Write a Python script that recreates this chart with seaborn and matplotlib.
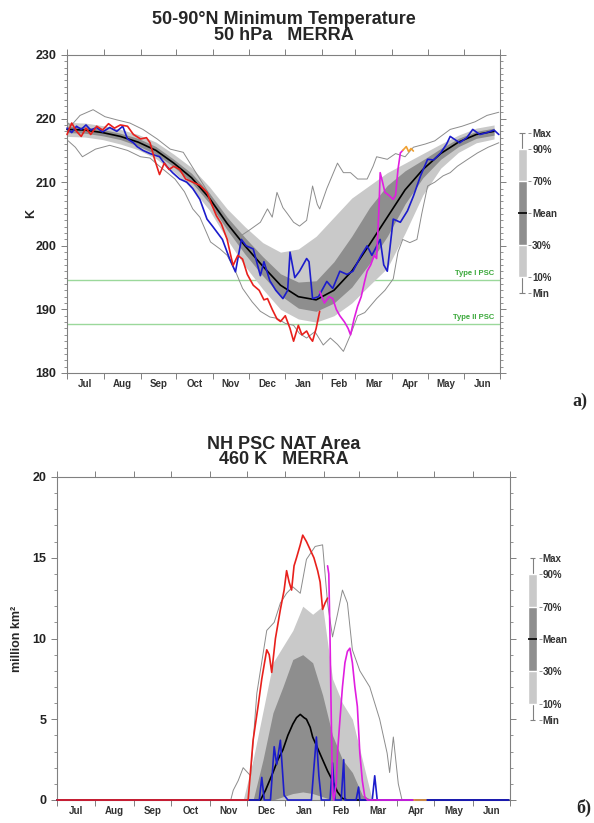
import numpy as np
import pandas as pd
import seaborn as sns
from matplotlib import pyplot as plt

# ---- common -------------------------------------------------------------
month_names = ['Jul', 'Aug', 'Sep', 'Oct', 'Nov', 'Dec', 'Jan', 'Feb', 'Mar', 'Apr', 'May', 'Jun']
month_starts = [0, 31, 62, 92, 123, 153, 184, 215, 243, 274, 304, 335, 365]

key_labels = ['Min', '10%', '30%', 'Mean', '70%', '90%', 'Max']
key_pos = [0, 1, 3, 5, 7, 9, 10]

# ---- panel a: 50-90N minimum temperature, 50 hPa (K) ---------------------
t_band_day = [0, 15, 30, 45, 60, 75, 90, 105, 120, 135, 150, 165, 180, 195, 210, 225, 240, 255, 270, 285,
              300, 315, 330, 345, 360]
t_mean = [218.3, 218.2, 217.8, 217.2, 216.3, 215.0, 213.0, 210.7, 207.5, 203.5, 200.0, 196.8, 193.8, 192.0,
          191.5, 193.0, 196.0, 200.2, 204.5, 208.8, 212.0, 214.5, 216.3, 217.5, 218.0]
t_p90 = [219.4, 219.3, 218.9, 218.3, 217.5, 216.3, 214.4, 212.3, 209.3, 205.8, 203.0, 200.5, 199.0, 199.5,
         201.5, 204.5, 207.5, 209.5, 211.5, 213.0, 214.5, 216.0, 217.4, 218.5, 219.0]
t_p70 = [218.8, 218.7, 218.3, 217.7, 216.9, 215.6, 213.6, 211.4, 208.3, 204.5, 201.3, 198.3, 195.6, 194.3,
         194.5, 197.5, 201.5, 206.0, 209.5, 211.8, 213.5, 215.3, 216.9, 218.0, 218.5]
t_p30 = [217.8, 217.7, 217.3, 216.7, 215.7, 214.4, 212.4, 210.0, 206.7, 202.5, 198.7, 195.3, 192.2, 190.2,
         189.7, 191.0, 193.5, 197.2, 201.5, 206.6, 210.7, 213.6, 215.6, 216.9, 217.4]
t_p10 = [217.2, 217.1, 216.7, 216.0, 215.1, 213.7, 211.6, 209.1, 205.6, 201.0, 196.8, 193.2, 190.0, 188.5,
         188.0, 189.0, 191.0, 193.8, 196.5, 202.0, 208.0, 212.2, 214.7, 216.2, 216.8]

t_max_day = [0, 3, 11, 22, 32, 42, 53, 64, 76, 87, 98, 112, 126, 137, 146, 154, 163, 169, 173, 177, 182, 186,
             191, 196, 202, 207, 211, 213, 219, 228, 233, 239, 245, 253, 258, 261, 270, 277, 285, 292, 302,
             310, 323, 333, 344, 354, 364]
t_max = [219.5, 218.8, 220.5, 221.4, 220.3, 219.8, 219.3, 218.3, 216.8, 215.2, 214.7, 210.5, 206.3, 203.1,
         201.5, 202.5, 203.7, 205.8, 204.5, 208.4, 206.0, 205.0, 203.7, 203.1, 204.0, 209.4, 206.5, 205.8,
         209.0, 213.0, 211.5, 211.5, 210.5, 210.5, 212.5, 214.0, 213.6, 214.5, 214.0, 215.5, 216.0, 216.5,
         218.3, 218.8, 219.5, 220.5, 221.0]
t_min_day = [1, 7, 13, 24, 36, 51, 62, 70, 78, 91, 99, 106, 112, 121, 129, 135, 142, 148, 156, 163, 171, 177,
             184, 191, 196, 202, 209, 216, 222, 228, 233, 239, 245, 251, 261, 268, 275, 279, 283, 289, 295,
             299, 304, 310, 317, 323, 329, 337, 346, 355, 364]
t_min = [216.5, 215.5, 214.0, 215.2, 215.8, 215.0, 214.0, 213.8, 212.5, 210.5, 208.5, 205.8, 204.5, 200.6,
         199.5, 198.5, 196.0, 193.3, 191.2, 189.7, 188.8, 188.6, 187.8, 187.5, 186.2, 185.5, 186.5, 184.4,
         185.5, 184.5, 183.4, 186.0, 189.0, 189.5, 191.7, 193.0, 194.8, 199.0, 201.0, 200.5, 201.0, 205.0,
         209.4, 210.0, 211.0, 211.5, 212.5, 213.5, 214.6, 215.5, 216.2]

t_red_day = [0, 4, 8, 12, 16, 20, 25, 30, 35, 40, 45, 51, 56, 62, 67, 70, 74, 78, 82, 86, 90, 95, 100, 106,
             112, 118, 122, 126, 130, 135, 138, 140, 144, 148, 152, 157, 162, 166, 169, 173, 177, 180, 184,
             188, 191, 195, 198, 202, 205, 207, 210, 213]
t_red = [217.5, 219.3, 218.0, 217.2, 218.5, 217.5, 218.8, 218.2, 219.2, 218.5, 219.0, 218.8, 217.5, 216.8,
         217.0, 216.2, 213.5, 211.2, 213.0, 212.0, 212.5, 212.0, 210.5, 210.0, 209.5, 208.4, 206.5, 204.7,
         203.5, 201.0, 198.5, 196.9, 198.5, 197.9, 195.5, 193.8, 193.0, 191.5, 191.7, 190.0, 188.5, 188.1,
         189.0, 187.0, 185.0, 187.5, 186.0, 186.6, 185.5, 185.0, 187.0, 189.7]
t_blue_day = [0, 4, 8, 12, 16, 20, 25, 30, 36, 42, 47, 51, 56, 59, 64, 70, 78, 84, 89, 95, 101, 106, 112,
              118, 123, 131, 137, 142, 147, 151, 157, 163, 166, 171, 176, 182, 186, 188, 192, 196, 202, 204,
              207, 212, 219, 224, 230, 236, 241, 248, 253, 257, 264, 267, 270, 275, 281, 287, 292, 298, 304,
              309, 315, 320, 323, 331, 337, 342, 348, 354, 360, 364]
t_blue = [218.5, 217.8, 218.8, 218.3, 219.0, 218.2, 218.6, 217.9, 218.6, 218.0, 218.8, 216.8, 216.2, 215.6,
          215.0, 214.5, 214.0, 212.5, 211.5, 210.5, 210.0, 209.0, 207.3, 204.2, 203.0, 201.0, 198.0, 195.9,
          201.0, 200.0, 199.5, 195.3, 197.5, 194.5, 193.0, 191.7, 193.0, 199.0, 195.0, 196.0, 198.0, 197.5,
          191.7, 192.0, 194.4, 193.3, 196.0, 195.5, 196.0, 198.5, 200.0, 198.5, 201.0, 197.0, 196.0, 204.2,
          203.7, 205.5, 207.8, 211.0, 213.6, 213.5, 214.6, 216.0, 217.2, 216.2, 217.0, 218.3, 217.5, 217.8,
          218.2, 217.5]
t_mag_day = [213, 217, 221, 224, 227, 230, 234, 237, 239, 242, 245, 248, 251, 253, 256, 259, 261, 263, 264,
             266, 268, 271, 275, 277, 279, 281, 283]
t_mag = [192.8, 191.0, 192.0, 191.7, 190.0, 189.0, 188.0, 187.0, 186.0, 188.5, 190.5, 192.0, 194.5, 196.0,
         197.0, 198.5, 198.0, 206.0, 211.5, 210.0, 208.4, 208.0, 207.3, 208.0, 212.0, 214.6, 215.0]
t_org_day = [283, 286, 288, 290, 292]
t_org = [215.0, 215.6, 214.8, 215.3, 214.9]

psc_levels = [194.6, 187.7]
psc_names = ['Type I PSC', 'Type II PSC']

# ---- panel b: NH PSC NAT area, 460 K (million km2) ----------------------
a_band_day = [150, 158, 166, 174, 182, 190, 198, 206, 214, 222, 230, 238, 246, 254]
a_p90 = [0.0, 2.5, 5.5, 8.5, 9.5, 10.5, 12.0, 11.5, 12.0, 7.5, 6.0, 5.0, 2.5, 0.0]
a_p70 = [0.0, 0.0, 2.5, 5.4, 7.0, 8.7, 9.0, 8.5, 6.5, 4.0, 2.5, 1.7, 0.3, 0.0]
a_p30 = [0.0, 0.0, 0.0, 0.0, 0.2, 0.4, 0.5, 0.4, 0.2, 0.0, 0.0, 0.0, 0.0, 0.0]
a_p10 = [0.0, 0.0, 0.0, 0.0, 0.0, 0.0, 0.0, 0.0, 0.0, 0.0, 0.0, 0.0, 0.0, 0.0]

a_mean_day = [0, 164, 168, 174, 178, 182, 186, 190, 193, 196, 199, 201, 204, 206, 210, 214, 218, 222, 226,
              230, 234, 364]
a_mean = [0.0, 0.0, 0.6, 1.7, 2.5, 3.1, 4.0, 4.7, 5.1, 5.3, 5.1, 5.0, 4.5, 3.9, 3.2, 2.5, 1.8, 1.2, 0.5, 0.1,
          0.0, 0.0]
a_max_day = [0, 140, 142, 146, 150, 156, 161, 169, 175, 180, 185, 190, 196, 201, 208, 214, 218, 222, 226,
             230, 234, 238, 244, 252, 260, 266, 268, 271, 275, 278, 364]
a_max = [0.0, 0.0, 0.6, 1.2, 2.0, 1.5, 6.6, 10.5, 11.0, 12.2, 12.8, 13.2, 12.8, 14.9, 15.7, 15.8, 12.2,
         10.1, 11.5, 13.0, 12.2, 9.3, 8.0, 7.0, 5.0, 2.9, 1.7, 3.9, 1.0, 0.0, 0.0]

a_red_day = [0, 154, 158, 162, 165, 169, 171, 173, 176, 180, 183, 185, 187, 189, 191, 193, 196, 198, 201,
             204, 207, 210, 212, 214, 216, 218]
a_red = [0.0, 0.0, 3.7, 5.8, 7.5, 9.3, 9.0, 7.9, 10.0, 11.8, 13.0, 14.2, 13.5, 13.0, 14.5, 15.0, 15.8, 16.4,
         16.0, 15.5, 15.0, 14.2, 13.5, 11.8, 12.2, 12.5]
a_mag_day = [218, 219, 220, 221, 222, 223, 225, 226, 228, 230, 232, 234, 236, 238, 240, 242, 244, 246, 248,
             250, 288]
a_mag = [14.5, 14.0, 10.0, 5.0, 0.5, 0.0, 1.0, 2.9, 5.0, 7.0, 8.5, 9.2, 9.4, 8.5, 7.0, 5.8, 2.9, 1.2, 0.2,
         0.0, 0.0]
a_org_day = [288, 297]
a_org = [0.0, 0.0]
a_blue_day = [0, 163, 165, 167, 172, 175, 177, 180, 183, 186, 205, 207, 209, 211, 213, 220, 222, 224, 229,
              231, 232, 241, 243, 244, 254, 256, 258, 364]
a_blue = [0.0, 0.0, 1.4, 0.0, 0.0, 3.3, 2.2, 3.7, 0.3, 0.0, 0.0, 2.0, 3.9, 1.5, 0.0, 0.0, 2.3, 0.0, 0.0,
          2.5, 0.0, 0.0, 0.8, 0.0, 0.0, 1.5, 0.0, 0.0]

LIGHT = '#c9c9c9'
DARK = '#8e8e8e'
EDGE = '#808080'
RED = '#e8201c'
BLUE = '#1c1ccc'
MAG = '#e01ee0'
ORG = '#f0a030'


def style_axes(ax, ylim, major, label):
    ax.set_xlim(0, 365)
    ax.set_ylim(*ylim)
    ax.set_xticks(month_starts)
    ax.set_xticklabels([])
    ax.set_xticks([(a + b) / 2 for a, b in zip(month_starts[:-1], month_starts[1:])], minor=True)
    ax.set_xticklabels(month_names, minor=True)
    ax.set_yticks(np.arange(ylim[0], ylim[1] + 1, major))
    ax.set_yticks(np.arange(ylim[0], ylim[1] + 1, 1), minor=True)
    ax.tick_params(axis='x', which='major', direction='out', length=4, width=0.7, color=EDGE,
                   top=True, bottom=True)
    ax.tick_params(axis='x', which='minor', length=0, pad=4, labelsize=7, labelcolor='#333333')
    ax.tick_params(axis='y', which='major', direction='out', length=4, width=0.7, color=EDGE,
                   left=True, right=True, labelsize=9, labelcolor='#222222')
    ax.tick_params(axis='y', which='minor', direction='out', length=2.5, width=0.6, color=EDGE,
                   left=True, right=True)
    for lab in ax.get_xticklabels(minor=True) + ax.get_yticklabels():
        lab.set_fontweight('bold')
    for sp in ax.spines.values():
        sp.set_visible(True)
        sp.set_color(EDGE)
        sp.set_linewidth(0.8)
        sp.set_zorder(1.5)
    ax.set_xlabel('')
    ax.set_ylabel(label, fontweight='bold', fontsize=9)


def draw_key(fig, rect):
    kax = fig.add_axes(rect)
    kax.set_xlim(-1, 1)
    kax.set_ylim(0, 10)
    kax.vlines(0, key_pos[0], key_pos[-1], color=EDGE, lw=0.8, zorder=1)
    kax.hlines([key_pos[0], key_pos[-1]], -0.45, 0.45, color=EDGE, lw=0.8, clip_on=False)
    kax.bar(0, key_pos[5] - key_pos[1], bottom=key_pos[1], width=1.5, color=LIGHT, zorder=2)
    kax.bar(0, key_pos[4] - key_pos[2], bottom=key_pos[2], width=1.5, color=DARK, zorder=3)
    kax.hlines(key_pos[3], -0.75, 0.75, color='black', lw=1.2, zorder=4)
    kax.set_xticks([])
    kax.yaxis.tick_right()
    kax.set_yticks(key_pos)
    kax.set_yticklabels(key_labels)
    kax.tick_params(axis='y', length=2, width=0.6, color=EDGE, pad=1, labelsize=7, labelcolor='#333333')
    for lab in kax.get_yticklabels():
        lab.set_fontweight('bold')
    for sp in kax.spines.values():
        sp.set_visible(False)


def line(ax, d, v, color, lw, z):
    sns.lineplot(x=d, y=v, ax=ax, color=color, lw=lw, estimator=None, sort=False, zorder=z)
    ax.get_lines()[-1].set_clip_on(False)


sns.set_theme(style='ticks')
plt.rcParams['font.family'] = ['Liberation Sans', 'DejaVu Sans']

fig = plt.figure(figsize=(5.94, 8.23), dpi=100)

# ---- panel a ----
ax1 = fig.add_axes([67 / 594, 1 - 373 / 823, 433 / 594, 318 / 823])
for lev, name in zip(psc_levels, psc_names):
    ax1.axhline(lev, color='#9bd89b', lw=1.0, zorder=0.5)
    ax1.text(360, lev + 0.5, name, ha='right', va='bottom', fontsize=5.5, fontweight='bold',
             color='#3aa83a', zorder=0.6)
ax1.fill_between(t_band_day, t_p10, t_p90, color=LIGHT, lw=0, zorder=1)
ax1.fill_between(t_band_day, t_p30, t_p70, color=DARK, lw=0, zorder=1.1)
line(ax1, t_max_day, t_max, '#8c8c8c', 0.7, 2)
line(ax1, t_min_day, t_min, '#8c8c8c', 0.7, 2)
line(ax1, t_band_day, t_mean, 'black', 1.2, 3)
line(ax1, t_blue_day, t_blue, BLUE, 1.2, 4)
line(ax1, t_red_day, t_red, RED, 1.2, 5)
line(ax1, t_mag_day, t_mag, MAG, 1.2, 5)
line(ax1, t_org_day, t_org, ORG, 1.2, 5)
style_axes(ax1, (180, 230), 10, 'K')
ax1.yaxis.set_label_coords(-0.07, 0.5)
draw_key(fig, [516 / 594, 1 - 293 / 823, 12 / 594, 160 / 823])

fig.text(284 / 594, 1 - 20 / 823, '50-90\u00b0N Minimum Temperature', ha='center', va='center',
         fontsize=13, fontweight='bold')
fig.text(284 / 594, 1 - 36 / 823, '50 hPa   MERRA', ha='center', va='center', fontsize=13,
         fontweight='bold')
fig.text(580 / 594, 1 - 401 / 823, '\u0430)', ha='center', va='center', fontsize=13, fontweight='bold',
         family=['Liberation Serif', 'DejaVu Serif'])

# ---- panel b ----
ax2 = fig.add_axes([57 / 594, 1 - 800 / 823, 453 / 594, 323 / 823])
ax2.fill_between(a_band_day, a_p10, a_p90, color=LIGHT, lw=0, zorder=1)
ax2.fill_between(a_band_day, a_p30, a_p70, color=DARK, lw=0, zorder=1.1)
line(ax2, a_max_day, a_max, '#8c8c8c', 0.7, 2)
line(ax2, a_mean_day, a_mean, 'black', 1.2, 3)
line(ax2, a_blue_day, a_blue, BLUE, 1.2, 4)
line(ax2, a_red_day, a_red, RED, 1.2, 5)
line(ax2, a_mag_day, a_mag, MAG, 1.2, 5)
line(ax2, a_org_day, a_org, ORG, 1.2, 5)
style_axes(ax2, (0, 20), 5, 'million km\u00b2')
ax2.yaxis.set_label_coords(-0.075, 0.5)
draw_key(fig, [526.5 / 594, 1 - 720 / 823, 12 / 594, 162 / 823])

fig.text(284 / 594, 1 - 444 / 823, 'NH PSC NAT Area', ha='center', va='center', fontsize=13,
         fontweight='bold')
fig.text(284 / 594, 1 - 460 / 823, '460 K   MERRA', ha='center', va='center', fontsize=13,
         fontweight='bold')
fig.text(584 / 594, 1 - 808 / 823, '\u0431)', ha='center', va='center', fontsize=13, fontweight='bold',
         family=['Liberation Serif', 'DejaVu Serif'])

fig.savefig('out.png', dpi=100)
